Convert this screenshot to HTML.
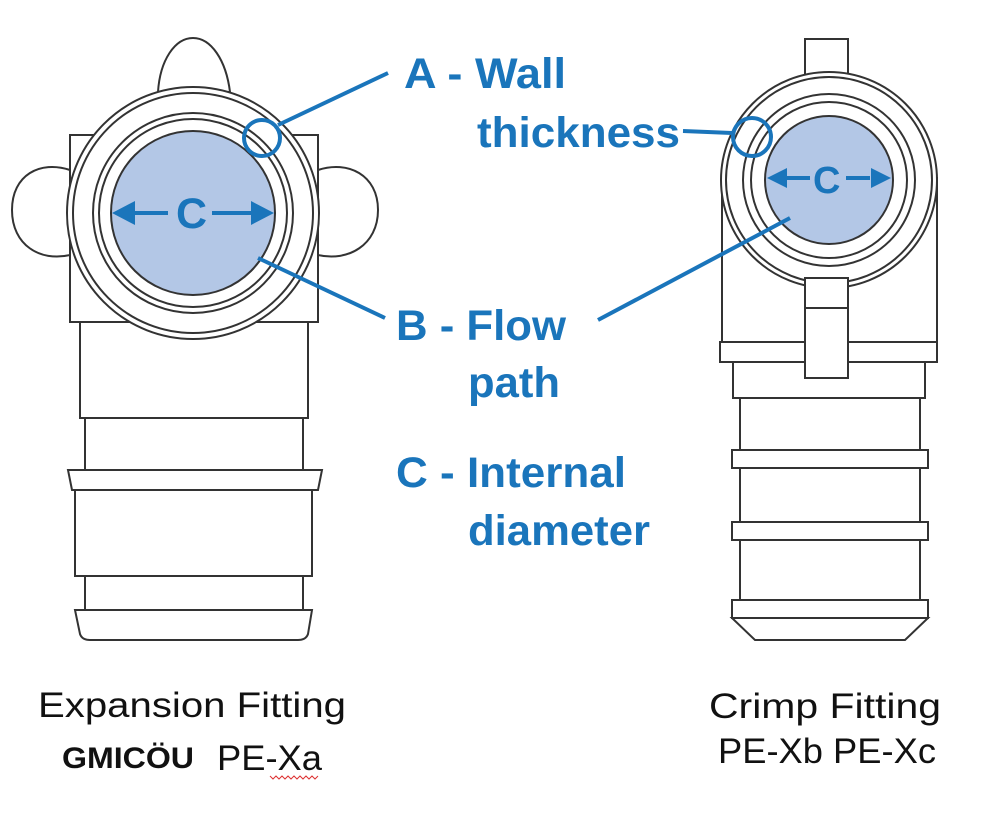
<!DOCTYPE html>
<html><head><meta charset="utf-8"><style>
html,body{margin:0;padding:0;background:#fff}
svg{display:block}
</style></head><body>
<svg width="1000" height="826" viewBox="0 0 1000 826" xmlns="http://www.w3.org/2000/svg">
<g fill="#fff" stroke="#333" stroke-width="2">
<!-- LEFT FITTING -->
<path d="M158,92 C160,60 175,38 193,38 C211,38 226,60 230,92 Z"/>
<path d="M70,170 C40,160 12,175 12,210 C12,245 40,262 70,255 Z"/>
<path d="M318,170 C348,160 378,175 378,210 C378,245 348,262 318,255 Z"/>
<rect x="70" y="135" width="248" height="187"/>
<rect x="80" y="322" width="228" height="96"/>
<rect x="85" y="418" width="218" height="52"/>
<path d="M68,470 L322,470 L318,490 L72,490 Z"/>
<rect x="75" y="490" width="237" height="86"/>
<rect x="85" y="576" width="218" height="34"/>
<path d="M75,610 L312,610 L308,634 Q306,640 298,640 L90,640 Q82,640 80,634 Z"/>
<circle cx="193" cy="213" r="126"/>
<circle cx="193" cy="213" r="120"/>
<circle cx="193" cy="213" r="100"/>
<circle cx="193" cy="213" r="94"/>
<circle cx="193" cy="213" r="82" fill="#b3c7e6"/>
<!-- RIGHT FITTING -->
<rect x="805" y="39" width="43" height="40"/>
<rect x="722" y="178" width="215" height="164"/>
<path d="M720,342 L937,342 L937,362 L720,362 Z"/>
<rect x="733" y="362" width="192" height="36"/>
<rect x="740" y="398" width="180" height="52"/>
<rect x="732" y="450" width="196" height="18"/>
<rect x="740" y="468" width="180" height="54"/>
<rect x="732" y="522" width="196" height="18"/>
<rect x="740" y="540" width="180" height="60"/>
<rect x="732" y="600" width="196" height="18"/>
<path d="M732,618 L928,618 L905,640 L755,640 Z"/>
<circle cx="829" cy="180" r="108"/>
<circle cx="829" cy="180" r="103"/>
<circle cx="829" cy="180" r="86"/>
<circle cx="829" cy="180" r="78"/>
<circle cx="829" cy="180" r="64" fill="#b3c7e6"/>
<rect x="805" y="278" width="43" height="100"/>
<line x1="805" y1="308" x2="848" y2="308"/>
</g>
<!-- callouts -->
<g stroke="#1a75bb" stroke-width="4" fill="none">
<line x1="388" y1="73" x2="278" y2="125"/>
<circle cx="262" cy="138" r="18"/>
<line x1="683" y1="131" x2="732" y2="133"/>
<circle cx="752" cy="137" r="19"/>
<line x1="385" y1="318" x2="258" y2="258"/>
<line x1="598" y1="320" x2="790" y2="218"/>
<line x1="130" y1="213" x2="168" y2="213"/>
<line x1="212" y1="213" x2="252" y2="213"/>
<line x1="785" y1="178" x2="810" y2="178"/>
<line x1="846" y1="178" x2="870" y2="178"/>
</g>
<g fill="#1a75bb">
<path d="M112,213 L135,201 L135,225 Z"/>
<path d="M274,213 L251,201 L251,225 Z"/>
<path d="M767,178 L787,168 L787,188 Z"/>
<path d="M891,178 L871,168 L871,188 Z"/>
</g>
<g fill="#1a75bb" font-family="Liberation Sans, sans-serif" font-weight="bold" font-size="43">
<text x="176" y="228">C</text>
<text x="813" y="193" font-size="38">C</text>
<text x="404" y="88" textLength="162" lengthAdjust="spacingAndGlyphs">A - Wall</text>
<text x="477" y="147" textLength="203" lengthAdjust="spacingAndGlyphs">thickness</text>
<text x="396" y="340" textLength="170" lengthAdjust="spacingAndGlyphs">B - Flow</text>
<text x="468" y="397" textLength="92" lengthAdjust="spacingAndGlyphs">path</text>
<text x="396" y="487" textLength="230" lengthAdjust="spacingAndGlyphs">C - Internal</text>
<text x="468" y="545" textLength="182" lengthAdjust="spacingAndGlyphs">diameter</text>
</g>
<g fill="#111" font-family="Liberation Sans, sans-serif" font-size="35">
<text x="38" y="717" textLength="308" lengthAdjust="spacingAndGlyphs">Expansion Fitting</text>
<text x="217" y="770" textLength="105" lengthAdjust="spacingAndGlyphs">PE-Xa</text>
<text x="709" y="718" textLength="232" lengthAdjust="spacingAndGlyphs">Crimp Fitting</text>
<text x="718" y="763" textLength="218" lengthAdjust="spacingAndGlyphs">PE-Xb  PE-Xc</text>
<text x="62" y="768" font-weight="bold" font-size="30" textLength="132" lengthAdjust="spacingAndGlyphs">GMICÖU</text>
</g>
<path d="M270,776 l3,3 l3,-3 l3,3 l3,-3 l3,3 l3,-3 l3,3 l3,-3 l3,3 l3,-3 l3,3 l3,-3 l3,3 l3,-3 l3,3 l3,-3" stroke="#d33" stroke-width="1" fill="none"/>
</svg>
</body></html>
